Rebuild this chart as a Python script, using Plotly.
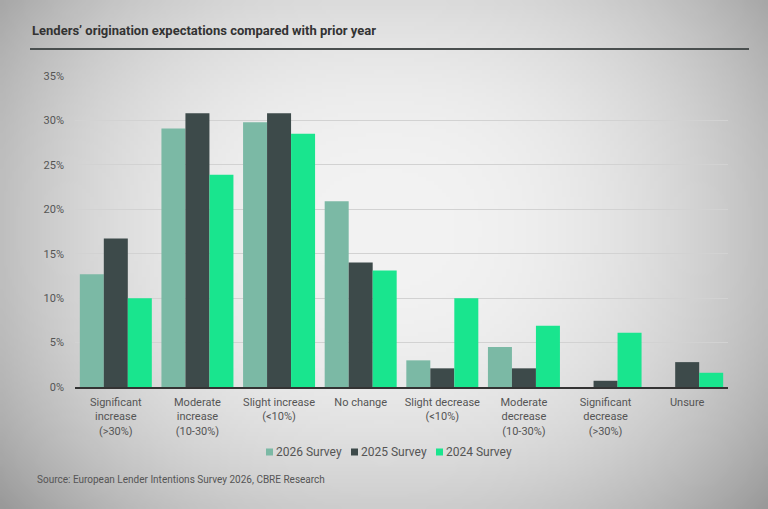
import plotly.graph_objects as go
import zlib, struct, base64

categories = [
    "Significant<br>increase<br>(>30%)",
    "Moderate<br>increase<br>(10-30%)",
    "Slight increase<br>(<10%)",
    "No change",
    "Slight decrease<br>(<10%)",
    "Moderate<br>decrease<br>(10-30%)",
    "Significant<br>decrease<br>(>30%)",
    "Unsure",
]
series_names = ["2026 Survey", "2025 Survey", "2024 Survey"]
survey_2026 = [12.7, 29.1, 29.8, 20.9, 3.0, 4.5, 0.0, 0.0]
survey_2025 = [16.7, 30.8, 30.8, 14.0, 2.1, 2.1, 0.7, 2.8]
survey_2024 = [10.0, 23.9, 28.5, 13.1, 10.0, 6.9, 6.1, 1.6]
y_ticks = [0, 5, 10, 15, 20, 25, 30, 35]
y_tick_labels = ["0%", "5%", "10%", "15%", "20%", "25%", "30%", "35%"]
colors = ["#7BB9A5", "#3D4A4A", "#19E58E"]

W, H = 768, 509
L, R, T, B = 75, 728, 76, 387
PW, PH = R - L, B - T

def px(x):
    return (x - L) / PW

def py(y):
    return (B - y) / PH

# vignette background as a small grayscale PNG
def make_png(w, h):
    rows = b""
    for j in range(h):
        v = (j / (h - 1) - 0.45) * 2
        row = bytearray([0])
        for i in range(w):
            u = (i / (w - 1) - 0.5) * 2
            g = 243 - 52 * (abs(u) ** 2.4) - 30 * (abs(v) ** 2.4)
            row.append(max(0, min(255, int(g))))
        rows += bytes(row)
    def chunk(t, d):
        c = struct.pack(">I", len(d)) + t + d
        return c + struct.pack(">I", zlib.crc32(t + d) & 0xffffffff)
    png = b"\x89PNG\r\n\x1a\n" + chunk(b"IHDR", struct.pack(">IIBBBBB", w, h, 8, 0, 0, 0, 0))
    png += chunk(b"IDAT", zlib.compress(rows)) + chunk(b"IEND", b"")
    return "data:image/png;base64," + base64.b64encode(png).decode()

bg = make_png(192, 128)

FONT = "Roboto"
fig = go.Figure()
for name, vals, col in zip(series_names, [survey_2026, survey_2025, survey_2024], colors):
    fig.add_trace(go.Bar(x=categories, y=vals, name=name, marker=dict(color=col, line=dict(width=0))))

fig.update_layout(
    width=W, height=H,
    margin=dict(l=L, r=W - R, t=T, b=H - B),
    paper_bgcolor="#E6E6E6", plot_bgcolor="rgba(0,0,0,0)",
    barmode="group", bargap=0.118, bargroupgap=0,
    font=dict(family=FONT, size=11, color="#555"),
    showlegend=False,
    images=[dict(source=bg, xref="paper", yref="paper", x=-L / PW, y=1 + T / PH,
                 sizex=W / PW, sizey=H / PH, sizing="stretch", layer="below", xanchor="left", yanchor="top")],
)
fig.update_yaxes(range=[0, 35], tickmode="array", tickvals=y_ticks, ticktext=y_tick_labels, showgrid=True,
                 gridcolor="#D2D2D2", gridwidth=1, zeroline=False, showline=False,
                 ticklabelstandoff=10, tickfont=dict(size=11, color="#555"))
fig.update_xaxes(showline=True, linecolor="#333", linewidth=1.5, tickfont=dict(size=11, color="#555"),
                 ticklabelstandoff=4)

# custom legend: small squares + labels
leg_x = [266, 351, 436]
for name, col, lx in zip(series_names, colors, leg_x):
    fig.add_shape(type="rect", xref="paper", yref="paper",
                  x0=px(lx), x1=px(lx + 7), y0=py(455.5), y1=py(448.5),
                  fillcolor=col, line=dict(width=0))
    fig.add_annotation(text=name, xref="paper", yref="paper", x=px(lx + 7.5), y=py(452),
                       xanchor="left", yanchor="middle", showarrow=False,
                       font=dict(size=12, color="#555", family=FONT))

fig.add_annotation(text="<b>Lenders’ origination expectations compared with prior year</b>",
                   xref="paper", yref="paper", x=px(30), y=py(31),
                   xanchor="left", yanchor="middle", showarrow=False,
                   font=dict(size=13, color="#333", family=FONT))
fig.add_annotation(text="Source: European Lender Intentions Survey 2026, CBRE Research",
                   xref="paper", yref="paper", x=px(35), y=py(480),
                   xanchor="left", yanchor="middle", showarrow=False,
                   font=dict(size=10, color="#555", family=FONT))
fig.add_shape(type="line", xref="paper", yref="paper",
              x0=px(30), x1=px(749), y0=py(49), y1=py(49),
              line=dict(color="#4A4F4F", width=2))

fig.write_html("out.html")
